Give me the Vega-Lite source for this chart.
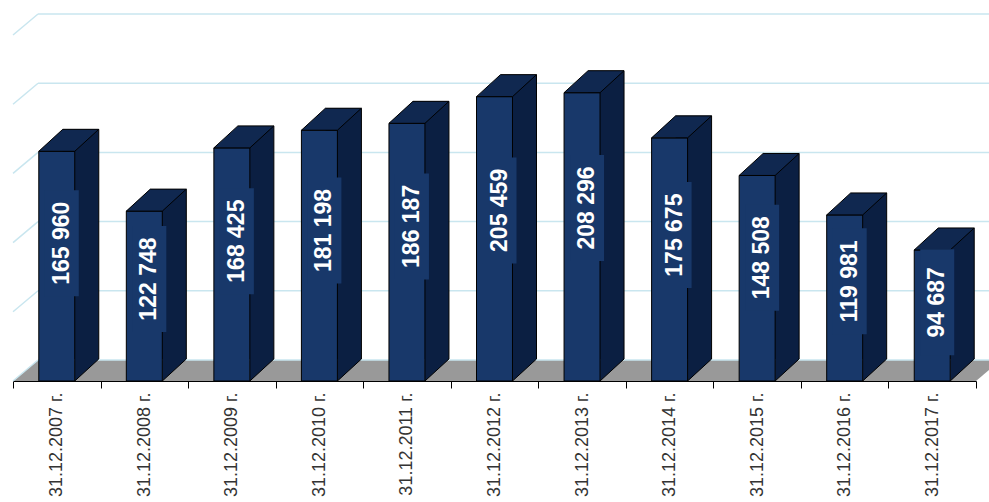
{
  "$schema": "https://vega.github.io/schema/vega-lite/v6.json",
  "width": 963,
  "height": 346,
  "autosize": {"type": "none"},
  "padding": {"left": 13, "top": 35, "right": 13, "bottom": 121},
  "background": "white",
  "config": {"view": {"stroke": null}, "font": "Liberation Sans"},
  "datasets": {
    "bars": [
      {"date": "31.12.2007 г.", "value": 165960, "label": "165 960"},
      {"date": "31.12.2008 г.", "value": 122748, "label": "122 748"},
      {"date": "31.12.2009 г.", "value": 168425, "label": "168 425"},
      {"date": "31.12.2010 г.", "value": 181198, "label": "181 198"},
      {"date": "31.12.2011 г.", "value": 186187, "label": "186 187"},
      {"date": "31.12.2012 г.", "value": 205459, "label": "205 459"},
      {"date": "31.12.2013 г.", "value": 208296, "label": "208 296"},
      {"date": "31.12.2014 г.", "value": 175675, "label": "175 675"},
      {"date": "31.12.2015 г.", "value": 148508, "label": "148 508"},
      {"date": "31.12.2016 г.", "value": 119981, "label": "119 981"},
      {"date": "31.12.2017 г.", "value": 94687, "label": "94 687"}
    ],
    "grid": [{"g": 0}, {"g": 50000}, {"g": 100000}, {"g": 150000}, {"g": 200000}, {"g": 250000}],
    "floor": [{"k": 1}]
  },
  "data": {"name": "bars"},
  "resolve": {"scale": {"y": "independent"}},
  "layer": [
    {
      "layer": [
        {
          "data": {"name": "floor"},
          "mark": {"type": "point", "shape": "M-4.815,0L4.815,0L5.065,-0.21L-4.565,-0.21Z", "size": 40000, "filled": true, "fill": "#999999", "strokeWidth": 0, "opacity": 1},
          "encoding": {
            "x": {"datum": "31.12.2012 г.", "type": "nominal"},
            "y": {"datum": 0, "type": "quantitative", "scale": {"domain": [0, 250000], "nice": false}, "axis": null}
          }
        },
        {
          "data": {"name": "grid"},
          "mark": {"type": "rule", "color": "#c9e6ef", "strokeWidth": 1.5, "xOffset": -18.75, "x2Offset": 68.75, "yOffset": -21},
          "encoding": {
            "x": {"datum": "31.12.2007 г.", "type": "nominal"},
            "x2": {"datum": "31.12.2017 г."},
            "y": {"field": "g", "type": "quantitative", "axis": null}
          }
        },
        {
          "data": {"name": "grid"},
          "mark": {"type": "rule", "color": "#c9e6ef", "strokeWidth": 1.5, "xOffset": -43.75, "x2Offset": -18.75, "y2Offset": -21},
          "encoding": {
            "x": {"datum": "31.12.2007 г.", "type": "nominal"},
            "x2": {"datum": "31.12.2007 г."},
            "y": {"field": "g", "type": "quantitative", "axis": null},
            "y2": {"field": "g"}
          }
        },
        {
          "mark": {"type": "bar", "fill": "#0b1f42", "width": {"band": 0.411}, "xOffset": 24, "yOffset": -22, "y2Offset": -22},
          "encoding": {
            "x": {
              "field": "date", "type": "nominal",
              "scale": {"paddingInner": 0, "paddingOuter": 0},
              "axis": {"title": null, "labelAngle": -90, "labelFontSize": 18, "labelColor": "#333333", "labelFont": "Liberation Sans", "domainColor": "#000000", "tickColor": "#000000", "tickSize": 7, "tickBand": "extent", "labelPadding": 4, "grid": false, "labelOverlap": false}
            },
            "y": {"field": "value", "type": "quantitative", "axis": null}
          }
        },
        {
          "mark": {"type": "rule", "color": "#000000", "strokeWidth": 1, "xOffset": 42, "yOffset": -22, "y2Offset": -22},
          "encoding": {
            "x": {"field": "date", "type": "nominal"},
            "y": {"field": "value", "type": "quantitative"},
            "y2": {"datum": 0}
          }
        },
        {
          "mark": {"type": "point", "shape": "M0.18,-0.22L0.42,-0.22L0.18,0Z", "size": 40000, "filled": true, "fill": "#0b1f42", "strokeWidth": 0, "opacity": 1},
          "encoding": {
            "x": {"field": "date", "type": "nominal"},
            "y": {"datum": 0, "type": "quantitative"}
          }
        },
        {
          "mark": {"type": "point", "shape": "M0.18,0L0.42,-0.22", "size": 40000, "filled": false, "stroke": "#000000", "strokeWidth": 1, "opacity": 1},
          "encoding": {
            "x": {"field": "date", "type": "nominal"},
            "y": {"datum": 0, "type": "quantitative"}
          }
        },
        {
          "mark": {"type": "bar", "fill": "#18386a", "stroke": "#000000", "strokeWidth": 1, "width": {"band": 0.411}},
          "encoding": {
            "x": {"field": "date", "type": "nominal"},
            "y": {"field": "value", "type": "quantitative"}
          }
        },
        {
          "mark": {"type": "point", "shape": "M-0.18,0L0.18,0L0.42,-0.22L0.06,-0.22Z", "size": 40000, "filled": true, "fill": "#102850", "stroke": "#000000", "strokeWidth": 1, "opacity": 1},
          "encoding": {
            "x": {"field": "date", "type": "nominal"},
            "y": {"field": "value", "type": "quantitative"}
          }
        }
      ]
    },
    {
      "layer": [
        {
          "mark": {"type": "point", "shape": "M-0.17,-0.53L0.17,-0.53L0.17,0.53L-0.17,0.53Z", "size": 40000, "filled": true, "fill": "#18386a", "strokeWidth": 0, "opacity": 1, "xOffset": 5},
          "encoding": {
            "x": {"field": "date", "type": "nominal"},
            "y": {"field": "value", "type": "quantitative", "scale": {"domain": [0, 416667], "nice": false}, "axis": null}
          }
        },
        {
          "mark": {"type": "text", "angle": 270, "align": "center", "baseline": "middle", "fontSize": 23, "fontWeight": "bold", "font": "Liberation Sans", "fill": "#ffffff", "xOffset": 5},
          "encoding": {
            "x": {"field": "date", "type": "nominal"},
            "y": {"field": "value", "type": "quantitative"},
            "text": {"field": "label"}
          }
        }
      ]
    }
  ]
}
